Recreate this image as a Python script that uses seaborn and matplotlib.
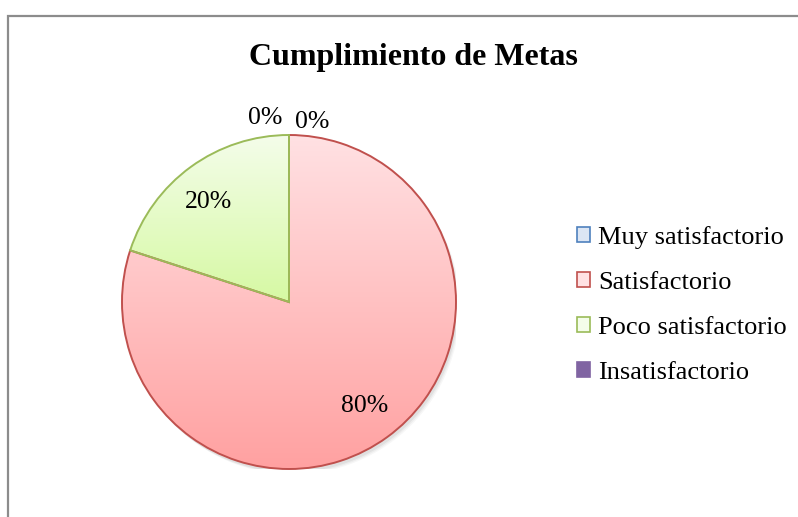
import numpy as np
import seaborn as sns
import matplotlib.pyplot as plt
from matplotlib.patches import Patch, Rectangle, Circle
from matplotlib.colors import LinearSegmentedColormap

# Données du graphique
categorias = ["Muy satisfactorio", "Satisfactorio", "Poco satisfactorio", "Insatisfactorio"]
valores = [0, 80, 20, 0]
etiquetas = ["0%", "80%", "20%", "0%"]

# couleurs (haut du dégradé, bas du dégradé, bordure)
color_top = ["#DCE6F4", "#FFE1E3", "#F4FDEA", "#8064A2"]
color_bottom = ["#B9CDE5", "#FFA1A1", "#D6F9A3", "#8064A2"]
color_edge = ["#4F81BD", "#C0504D", "#9BBB59", "#8064A2"]

sns.set_style("white")
plt.rcParams['font.family'] = ['Liberation Serif', 'DejaVu Serif']
plt.rcParams['text.color'] = 'black'

W, H = 798, 517
fig = plt.figure(figsize=(W / 100, H / 100), dpi=100)

# cadre gris autour du graphique
fig.patches.append(Rectangle((8 / W, -0.1), 1.2, 1 - 16 / H + 0.1, transform=fig.transFigure,
                             fill=False, edgecolor="#8c8c8c", lw=1.6))

cx, cy, r = 289, 302, 167
ax = fig.add_axes([(cx - r) / W, (H - cy - r) / H, 2 * r / W, 2 * r / H])

# ombre légère
for k, a in enumerate([0.05, 0.04, 0.03]):
    ax.add_patch(Circle((0.012 + 0.006 * k, -0.02 - 0.006 * k), 1.0, color="black",
                        alpha=a, lw=0, zorder=0))

wedges, _ = ax.pie(valores, startangle=90, counterclock=False, radius=1.0,
                   wedgeprops=dict(linewidth=1.4))

grad = np.linspace(0, 1, 256).reshape(-1, 1)
for i, w in enumerate(wedges):
    w.set_facecolor("none")
    w.set_edgecolor(color_edge[i])
    w.set_zorder(3)
    w.set_clip_on(False)
    if valores[i] == 0:
        w.set_linewidth(0)
        continue
    cmap = LinearSegmentedColormap.from_list(f"g{i}", [color_top[i], color_bottom[i]])
    bb = w.get_path().get_extents()
    im = ax.imshow(grad, cmap=cmap, aspect="auto", zorder=2,
                   extent=[bb.x0, bb.x1, bb.y0, bb.y1], origin="upper")
    im.set_clip_path(w)
ax.set_xlim(-1.0, 1.0)
ax.set_ylim(-1.0, 1.0)
ax.set_aspect("equal")
ax.axis("off")

# étiquettes de pourcentage
for i, w in enumerate(wedges):
    ang = np.deg2rad((w.theta1 + w.theta2) / 2 + (3 if i == 2 else 0))
    if valores[i] > 0:
        ax.text(0.77 * np.cos(ang), 0.77 * np.sin(ang), etiquetas[i], ha="center", va="center",
                fontsize=18.5, zorder=5)
    else:
        side = 1 if i == 0 else -1
        ax.text(side * 0.14, 1.08 if i == 0 else 1.10, etiquetas[i], ha="center", va="center",
                fontsize=18.5, zorder=5, clip_on=False)

fig.text(413 / W, 1 - 57 / H, "Cumplimiento de Metas", ha="center", va="center",
         fontsize=23, fontweight="bold")

handles = [Patch(facecolor=color_top[i], edgecolor=color_edge[i], lw=1.2) for i in range(4)]
fig.legend(handles, categorias, loc="center left", bbox_to_anchor=(564 / W, 1 - 305 / H),
           frameon=False, fontsize=19, handlelength=0.5, handleheight=0.5,
           handletextpad=0.3, labelspacing=0.87, borderpad=0)

fig.savefig("out.png", dpi=100)
